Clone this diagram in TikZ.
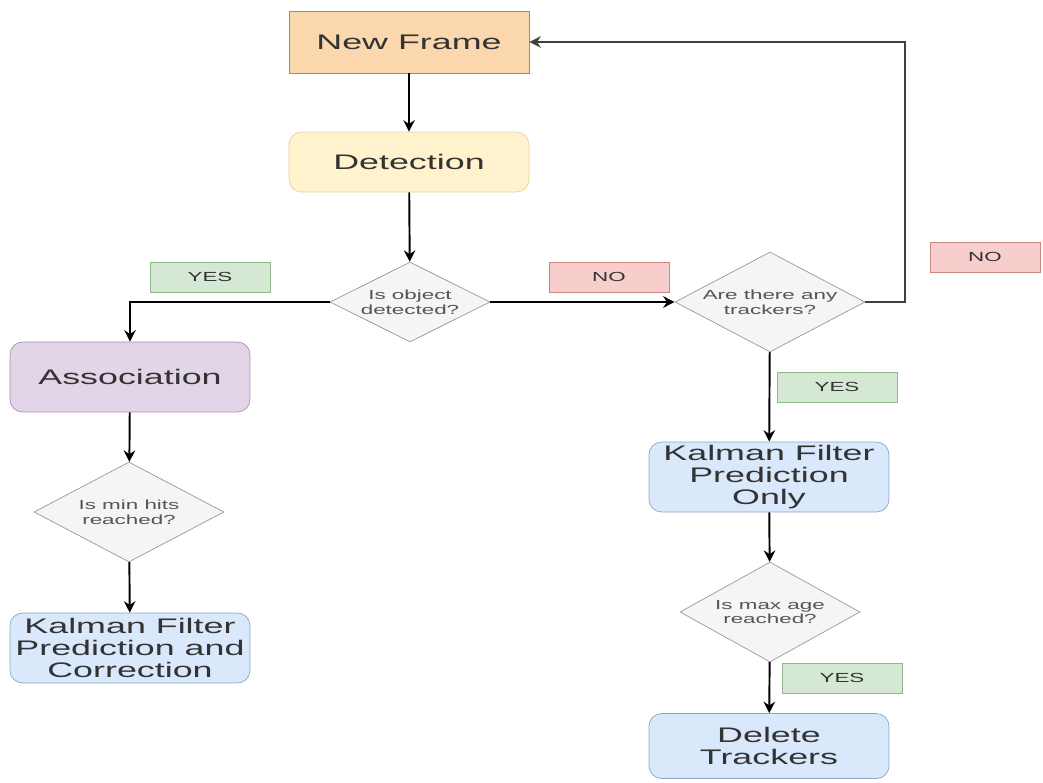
\documentclass[tikz,border=0pt]{standalone}
\usepackage{fontspec}
\setmainfont{Liberation Sans}[FakeStretch=1.7]
\usepackage{xcolor}
\usepackage{tikz}
\usetikzlibrary{shapes.geometric, arrows.meta, positioning}
\definecolor{frameFill}{HTML}{FAD7AC}
\definecolor{frameDraw}{HTML}{B0884E}
\definecolor{detFill}{HTML}{FFF2CC}
\definecolor{detDraw}{HTML}{E6D39A}
\definecolor{assocFill}{HTML}{E1D5E7}
\definecolor{assocDraw}{HTML}{A88BB5}
\definecolor{kfFill}{HTML}{DAE8FC}
\definecolor{kfDraw}{HTML}{8AA4C8}
\definecolor{decFill}{HTML}{F5F5F5}
\definecolor{decDraw}{HTML}{999999}
\definecolor{yesFill}{HTML}{D5E8D4}
\definecolor{yesDraw}{HTML}{8FB98A}
\definecolor{noFill}{HTML}{F8CECC}
\definecolor{noDraw}{HTML}{C98784}
\definecolor{txtDark}{HTML}{333333}
\definecolor{txtGray}{HTML}{555555}
\tikzstyle{startstop} = [rectangle, minimum width=4.8cm, minimum height=1.24cm, align=center, draw=frameDraw, fill=frameFill, text=txtDark, font=\fontsize{12}{12.5}\selectfont]
\tikzstyle{process} = [rectangle, rounded corners=0.25cm, minimum width=4.8cm, minimum height=1.4cm, align=center, inner sep=1pt, text=txtDark, font=\fontsize{12}{12.5}\selectfont]
\tikzstyle{decision} = [diamond, aspect=2, inner sep=0pt, minimum width=3.6cm, minimum height=2cm, align=center, draw=decDraw, fill=decFill, text=txtGray, font=\fontsize{7.5}{8.5}\selectfont]
\tikzstyle{yeslabel} = [rectangle, minimum width=2.4cm, minimum height=0.6cm, draw=yesDraw, fill=yesFill, text=txtDark, font=\fontsize{7.5}{8.5}\selectfont]
\tikzstyle{nolabel} = [rectangle, minimum width=2.4cm, minimum height=0.6cm, draw=noDraw, fill=noFill, text=txtDark, font=\fontsize{7.5}{8.5}\selectfont]
\tikzstyle{arrow} = [line width=1.1pt,->,>={Stealth[length=6.5pt,width=6.5pt]}]

\begin{document}
\begin{tikzpicture}[x=0.02cm, y=-0.02cm]
	\useasboundingbox (0,0) rectangle (1043,783);
	
	% Nodes
	\node (frame) [startstop] at (409,42) {New Frame};
	\node (detect) [process, draw=detDraw, fill=detFill, minimum height=1.2cm] at (409,162) {Detection};
	\node (objdet) [decision, minimum width=3.2cm, minimum height=1.6cm] at (410,302) {Is object\\detected?};
	\node (trackers) [decision, minimum width=3.8cm] at (770,302) {Are there any\\trackers?};
	\node (assoc) [process, draw=assocDraw, fill=assocFill] at (130,377) {Association};
	\node (minhits) [decision, minimum width=3.8cm] at (129,512) {Is min hits\\reached?};
	\node (kfcorr) [process, draw=kfDraw, fill=kfFill] at (130,648) {Kalman Filter\\Prediction and\\Correction};
	\node (kfpred) [process, draw=kfDraw, fill=kfFill] at (769,477) {Kalman Filter\\Prediction\\Only};
	\node (maxage) [decision] at (770,612) {Is max age\\reached?};
	\node (delete) [process, draw=kfDraw, fill=kfFill, minimum height=1.3cm] at (769,746) {Delete\\Trackers};
	
	% Labels
	\node (yesobj) [yeslabel] at (210,277) {YES};
	\node (noobj) [nolabel] at (609,277) {NO};
	\node (notrk) [nolabel, minimum width=2.2cm] at (985,257) {NO};
	\node (yestrk) [yeslabel] at (837,387) {YES};
	\node (yesage) [yeslabel] at (842,678) {YES};
	\coordinate (loop) at (905,302);
	
	% Arrows
	\draw [arrow] (frame) -- (detect);
	\draw [arrow] (detect) -- (objdet);
	\draw [arrow] (objdet.west) -| (assoc.north);
	\draw [arrow] (objdet.east) -- (trackers.west);
	\draw [arrow, black!75] (trackers.east) -- (loop) |- (frame.east);
	\draw [arrow] (assoc) -- (minhits);
	\draw [arrow] (minhits) -- (kfcorr);
	\draw [arrow] (trackers) -- (kfpred);
	\draw [arrow] (kfpred) -- (maxage);
	\draw [arrow] (maxage) -- (delete);
	
\end{tikzpicture}
\end{document}
